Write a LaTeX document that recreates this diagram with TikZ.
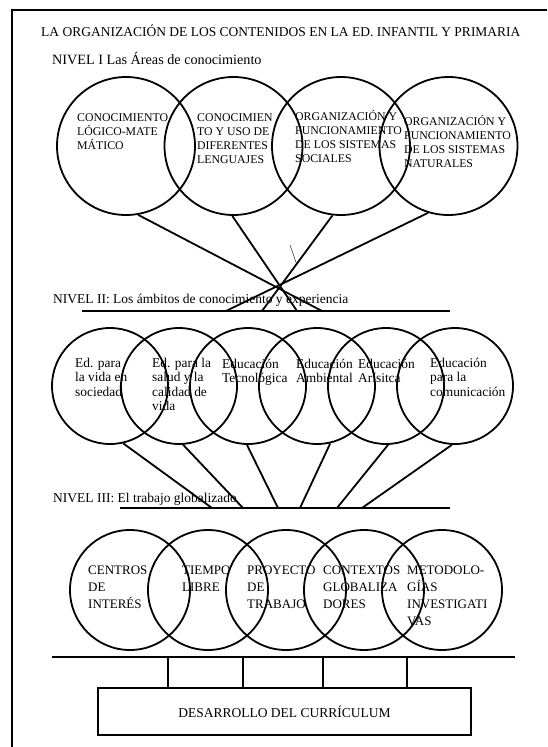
\documentclass[tikz,border=0pt]{standalone}
\usepackage{fontspec}
\setmainfont{Liberation Serif}
\begin{document}
% multi-line labels are placed by the baseline of their last line
\begin{tikzpicture}[x=1pt,y=-1pt,
  ring/.style={circle,draw,line width=1.8pt,inner sep=0pt},
  link/.style={line width=1.8pt},
  rule/.style={line width=1.8pt},
  caps/.style={anchor=base west,inner sep=0pt,align=left,font=\fontsize{11.8}{14}\selectfont},
  lbl/.style={anchor=base west,inner sep=0pt,align=left,font=\fontsize{13.4}{14.5}\selectfont},
  capsb/.style={anchor=base west,inner sep=0pt,align=left,font=\fontsize{13}{17}\selectfont},
  head/.style={anchor=base west,inner sep=0pt,font=\fontsize{13.5}{16}\selectfont}]
\useasboundingbox (0,0) rectangle (547,747);

% page frame (top and left edges)
\coordinate (fTL) at (12,10);
\coordinate (fTR) at (547,10);
\coordinate (fBL) at (12,747);
\draw[line width=1.4pt] (fTR) -- (fTL) -- (fBL);

% headings
\node[head] (title) at (41,36) {LA ORGANIZACIÓN DE LOS CONTENIDOS EN LA ED. INFANTIL Y PRIMARIA};
\node[head,font=\fontsize{14.2}{16}\selectfont] (n1) at (52,64) {NIVEL I Las Áreas de conocimiento};

% level I: areas of knowledge
\foreach \i/\cx in {1/126,2/233.5,3/341,4/448.5}
  \node[ring,minimum size=138pt] (a\i) at (\cx,146) {};
\node[caps] (ta1) at (77,149) {CONOCIMIENTO\\LÓGICO-MATE\\MÁTICO};
\node[caps] (ta2) at (197,163) {CONOCIMIEN\\TO Y USO DE\\DIFERENTES\\LENGUAJES};
\node[caps] (ta3) at (295,162) {ORGANIZACIÓN Y\\FUNCIONAMIENTO\\DE LOS SISTEMAS\\SOCIALES};
\node[caps] (ta4) at (404,167) {ORGANIZACIÓN Y\\FUNCIONAMIENTO\\DE LOS SISTEMAS\\NATURALES};

% level II heading and rule
\node[head] (n2) at (53,303) {NIVEL II: Los ámbitos de conocimiento y experiencia};
\coordinate (r2L) at (82,311);
\coordinate (r2R) at (450,311);
\draw[rule] (r2L) -- (r2R);
\coordinate (e1) at (322,311);
\coordinate (e2) at (297,311);
\coordinate (e3) at (262,311);
\coordinate (e4) at (226,311);
\draw[link] (a1.-80) -- (e1);
\draw[link] (a2.-91) -- (e2);
\draw[link] (a3.-97) -- (e3);
\draw[link] (a4.-107) -- (e4);
\coordinate (s1) at (290,245);
\coordinate (s2) at (297,265);
\draw[line width=0.4pt] (s1) -- (s2);

% level II: fields of knowledge and experience
\foreach \i/\cx in {1/110,2/179,3/248,4/317,5/386,6/455}
  \node[ring,minimum size=116pt] (b\i) at (\cx,386) {};
\node[lbl] (tb1) at (75,396) {Ed. para\\la vida en\\sociedad};
\node[lbl] (tb2) at (152,410.5) {Ed. para la\\salud y la\\calidad de\\vida};
\node[lbl] (tb3) at (222,382.5) {Educación\\Tecnológica};
\node[lbl] (tb4) at (296,382.5) {Educación\\Ambiental};
\node[lbl] (tb5) at (358,382.5) {Educación\\Arísitca};
\node[lbl] (tb6) at (430,396) {Educación\\para la\\comunicación};

% level III heading and rule
\node[head] (n3) at (53,502) {NIVEL III: El trabajo globalizado};
\coordinate (r3L) at (120,508);
\coordinate (r3R) at (450,508);
\draw[rule] (r3L) -- (r3R);
\coordinate (g1) at (212,508);
\coordinate (g2) at (243,508);
\coordinate (g3) at (278,508);
\coordinate (g4) at (300,508);
\coordinate (g5) at (337,508);
\coordinate (g6) at (362,508);
\draw[link] (b1.-77) -- (g1);
\draw[link] (b2.-86) -- (g2);
\draw[link] (b3.-91) -- (g3);
\draw[link] (b4.-77) -- (g4);
\draw[link] (b5.-88) -- (g5);
\draw[link] (b6.-93) -- (g6);

% level III: globalised work
\foreach \i/\cx in {1/130,2/208,3/286,4/364,5/442}
  \node[ring,minimum size=120pt] (c\i) at (\cx,590) {};
\node[capsb] (tc1) at (88,608) {CENTROS\\DE\\INTERÉS};
\node[capsb] (tc2) at (182,591) {TIEMPO\\LIBRE};
\node[capsb] (tc3) at (247,608) {PROYECTO\\DE\\TRABAJO};
\node[capsb] (tc4) at (323,608) {CONTEXTOS\\GLOBALIZA\\DORES};
\node[capsb] (tc5) at (407,625) {METODOLO-\\GÍAS\\INVESTIGATI\\VAS};

% base rule, supports and curriculum box
\coordinate (r4L) at (52,657);
\coordinate (r4R) at (515,657);
\draw[rule] (r4L) -- (r4R);
\node[draw,line width=1.8pt,minimum width=373pt,minimum height=47pt,inner sep=0pt,
      font=\fontsize{13.5}{16}\selectfont] (dev) at (284.5,711.5) {DESARROLLO DEL CURRÍCULUM};
\foreach \x in {168,243,323,407}
  \draw[link] (\x,657) -- (dev.north -| \x,0);
\end{tikzpicture}
\end{document}
